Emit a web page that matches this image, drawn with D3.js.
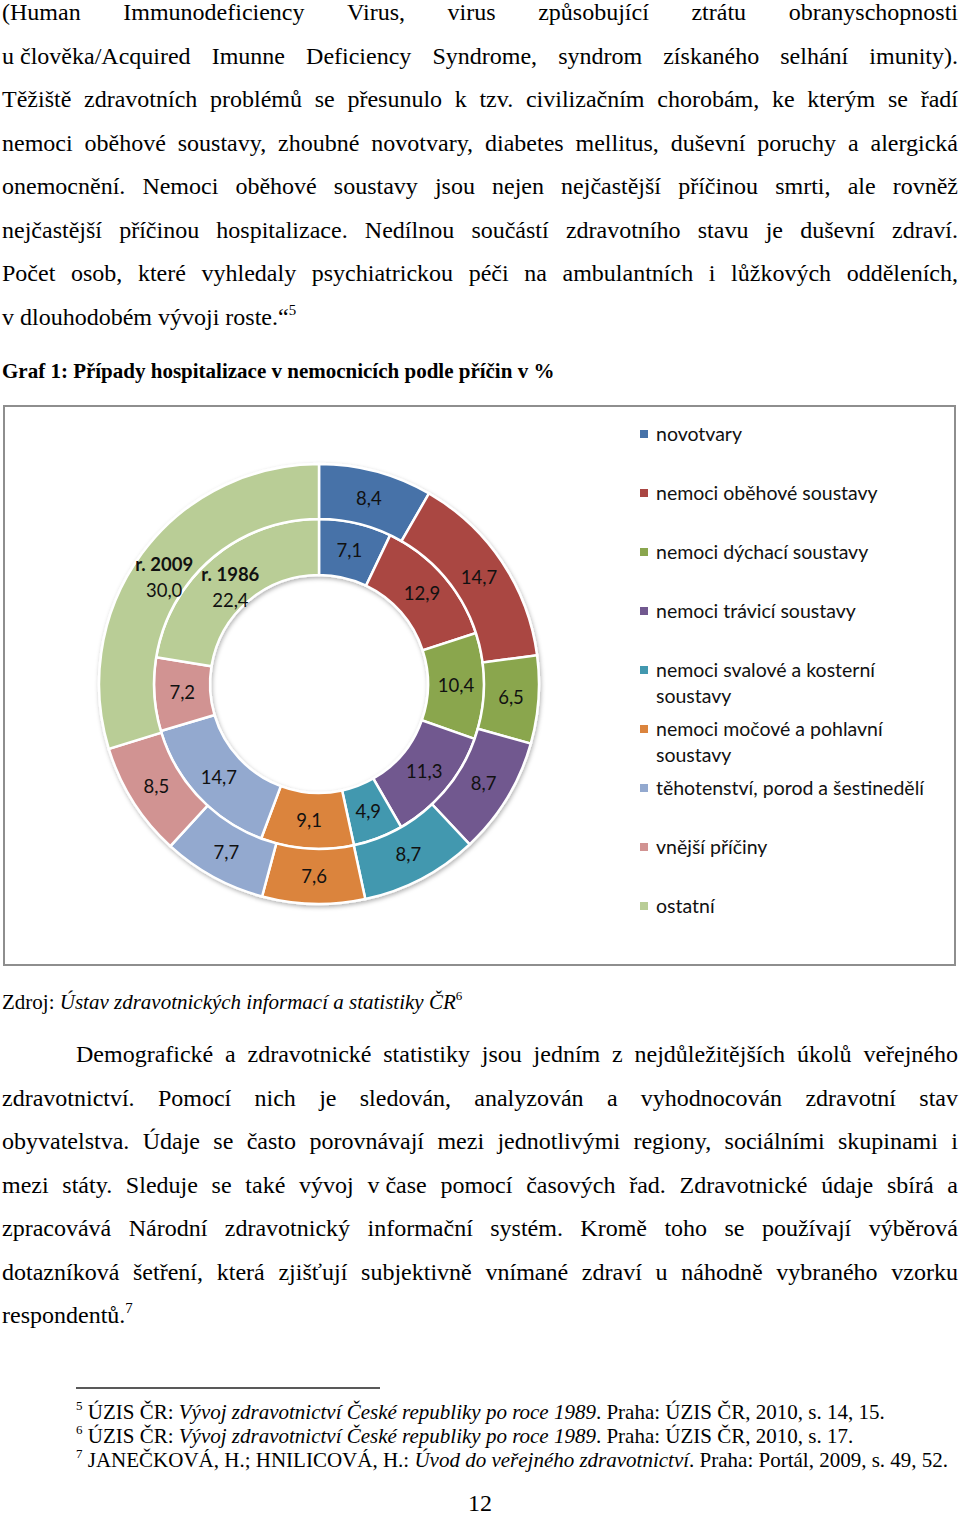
<!DOCTYPE html>
<html>
<head>
<meta charset="utf-8">
<script src="https://cdn.jsdelivr.net/npm/d3@7"></script>
<style>
body { margin: 0; background: #fff; }
svg text { white-space: pre; }
</style>
</head>
<body>
<div id="page"></div>
<script>
// ---- chart data ----
var categories = ["novotvary", "nemoci oběhové soustavy", "nemoci dýchací soustavy",
    "nemoci trávicí soustavy", "nemoci svalové a kosterní soustavy",
    "nemoci močové a pohlavní soustavy", "těhotenství, porod a šestinedělí",
    "vnější příčiny", "ostatní"];
var legendLabels = [["novotvary"], ["nemoci oběhové soustavy"], ["nemoci dýchací soustavy"],
    ["nemoci trávicí soustavy"], ["nemoci svalové a kosterní", "soustavy"],
    ["nemoci močové a pohlavní", "soustavy"], ["těhotenství, porod a šestinedělí"],
    ["vnější příčiny"], ["ostatní"]];
var values1986 = [7.1, 12.9, 10.4, 11.3, 4.9, 9.1, 14.7, 7.2, 22.4];
var values2009 = [8.4, 14.7, 6.5, 8.7, 8.7, 7.6, 7.7, 8.5, 30.0];
var ringNames = ["r. 1986", "r. 2009"];
var palette = ["#4672a8", "#aa4643", "#8aa64e", "#71588f", "#4298af",
    "#db843d", "#93a9cf", "#d19392", "#b9cd96"];

// ---- page text ----
var para1 = [
    "(Human Immunodeficiency Virus, virus způsobující ztrátu obranyschopnosti",
    "u\u00a0člověka/Acquired Imunne Deficiency Syndrome, syndrom získaného selhání imunity).",
    "Těžiště zdravotních problémů se přesunulo k tzv. civilizačním chorobám, ke kterým se řadí",
    "nemoci oběhové soustavy, zhoubné novotvary, diabetes mellitus, duševní poruchy a alergická",
    "onemocnění. Nemoci oběhové soustavy jsou nejen nejčastější příčinou smrti, ale rovněž",
    "nejčastější příčinou hospitalizace. Nedílnou součástí zdravotního stavu je duševní zdraví.",
    "Počet osob, které vyhledaly psychiatrickou péči na ambulantních i lůžkových odděleních,",
    "v\u00a0dlouhodobém vývoji roste.“<sup>5</sup>"
];
var para2 = [
    "Demografické a zdravotnické statistiky jsou jedním z nejdůležitějších úkolů veřejného",
    "zdravotnictví. Pomocí nich je sledován, analyzován a vyhodnocován zdravotní stav",
    "obyvatelstva. Údaje se často porovnávají mezi jednotlivými regiony, sociálními skupinami i",
    "mezi státy. Sleduje se také vývoj v\u00a0čase pomocí časových řad. Zdravotnické údaje sbírá a",
    "zpracovává Národní zdravotnický informační systém. Kromě toho se používají výběrová",
    "dotazníková šetření, která zjišťují subjektivně vnímané zdraví u náhodně vybraného vzorku",
    "respondentů.<sup>7</sup>"
];
var graphTitle = "Graf 1: Případy hospitalizace v nemocnicích podle příčin v %";
var sourceLine = "Zdroj: <i>Ústav zdravotnických informací a statistiky ČR</i><sup>6</sup>";
var footnotes = [
    "<sup>5</sup> ÚZIS ČR: <i>Vývoj zdravotnictví České republiky po roce 1989</i>. Praha: ÚZIS ČR, 2010, s. 14, 15.",
    "<sup>6</sup> ÚZIS ČR: <i>Vývoj zdravotnictví České republiky po roce 1989</i>. Praha: ÚZIS ČR, 2010, s. 17.",
    "<sup>7</sup> JANEČKOVÁ, H.; HNILICOVÁ, H.: <i>Úvod do veřejného zdravotnictví</i>. Praha: Portál, 2009, s. 49, 52."
];
var pageNumber = "12";

var width = 960, height = 1515;
var serif = "'Liberation Serif', 'Times New Roman', serif";
var sans = "Lato, 'Open Sans', sans-serif";

var svg = d3.select("#page").append("svg")
    .attr("width", width)
    .attr("height", height);

// ---- rich text helpers ----
function parseRich(str) {
    var runs = [], italic = false, sup = false;
    str.split(/(<\/?(?:i|sup)>)/).forEach(function (p) {
        if (p === "<i>") italic = true;
        else if (p === "</i>") italic = false;
        else if (p === "<sup>") sup = true;
        else if (p === "</sup>") sup = false;
        else if (p) runs.push({text: p, italic: italic, sup: sup});
    });
    return runs;
}

function splitWords(runs) {
    var words = [[]];
    runs.forEach(function (r) {
        r.text.split(" ").forEach(function (pc, i) {
            if (i > 0) words.push([]);
            if (pc) words[words.length - 1].push({text: pc, italic: r.italic, sup: r.sup});
        });
    });
    return words.filter(function (w) { return w.length; });
}

function fillText(t, runs, fs) {
    var shifted = false;
    runs.forEach(function (r) {
        var ts = t.append("tspan").text(r.text);
        if (r.italic) ts.attr("font-style", "italic");
        if (r.sup) {
            ts.attr("font-size", fs * 0.62);
            if (!shifted) { ts.attr("dy", -fs * 0.42); shifted = true; }
        } else if (shifted) {
            ts.attr("dy", fs * 0.42);
            shifted = false;
        }
    });
}

function drawLine(g, str, x0, x1, baseline, fs, justify) {
    var runs = parseRich(str);
    if (!justify) {
        var t = g.append("text").attr("x", x0).attr("y", baseline).attr("font-size", fs);
        fillText(t, runs, fs);
        return;
    }
    var words = splitWords(runs);
    var nodes = words.map(function (w) {
        var t = g.append("text").attr("y", baseline).attr("font-size", fs);
        fillText(t, w, fs);
        return t;
    });
    var widths = nodes.map(function (n) { return n.node().getComputedTextLength(); });
    var gap = (x1 - x0 - d3.sum(widths)) / (words.length - 1);
    var x = x0;
    nodes.forEach(function (n, i) {
        n.attr("x", x);
        x += widths[i] + gap;
    });
}

// ---- body text ----
var textG = svg.append("g")
    .attr("font-family", serif)
    .attr("fill", "#000");

var lineStep = 43.55;
para1.forEach(function (line, i) {
    drawLine(textG, line, 2, 958, 20 + i * lineStep, 24, i < para1.length - 1);
});

textG.append("text")
    .attr("x", 2)
    .attr("y", 378)
    .attr("font-size", 21)
    .attr("font-weight", "bold")
    .text(graphTitle);

drawLine(textG, sourceLine, 2, 958, 1009, 21, false);

para2.forEach(function (line, i) {
    drawLine(textG, line, i === 0 ? 76 : 2, 958, 1062 + i * lineStep, 24, i < para2.length - 1);
});

textG.append("line")
    .attr("x1", 76).attr("x2", 380)
    .attr("y1", 1388).attr("y2", 1388)
    .attr("stroke", "#222")
    .attr("stroke-width", 1.5);

footnotes.forEach(function (line, i) {
    drawLine(textG, line, 76, 958, 1419 + i * 24, 21, false);
});

textG.append("text")
    .attr("x", width / 2)
    .attr("y", 1511)
    .attr("text-anchor", "middle")
    .attr("font-size", 24)
    .text(pageNumber);

// ---- chart frame ----
var box = {x: 4, y: 406, w: 951, h: 559};
svg.append("rect")
    .attr("x", box.x).attr("y", box.y)
    .attr("width", box.w).attr("height", box.h)
    .attr("fill", "#fff")
    .attr("stroke", "#8e8e8e")
    .attr("stroke-width", 2);

var defs = svg.append("defs");
var shadow = defs.append("filter").attr("id", "shadow")
    .attr("x", "-10%").attr("y", "-10%").attr("width", "120%").attr("height", "120%");
shadow.append("feDropShadow")
    .attr("dx", 1).attr("dy", 2)
    .attr("stdDeviation", 2)
    .attr("flood-color", "#000")
    .attr("flood-opacity", 0.3);

// ---- donut ----
var cx = 319, cy = 684;
var radii = [[109, 165], [165, 220]];   // inner ring 1986, outer ring 2009
var color = d3.scaleOrdinal().domain(categories).range(palette);
var fmt = d3.formatLocale({decimal: ",", thousands: " ", grouping: [3], currency: ["", ""]}).format(".1f");

var pie = d3.pie().sort(null).value(function (d) { return d; });

var chart = svg.append("g")
    .attr("transform", "translate(" + cx + "," + cy + ")");

var ringG = chart.append("g").attr("filter", "url(#shadow)");

[values1986, values2009].forEach(function (vals, ri) {
    var arc = d3.arc().innerRadius(radii[ri][0]).outerRadius(radii[ri][1]);
    var arcs = pie(vals);

    ringG.selectAll(".slice-" + ri)
        .data(arcs)
        .enter().append("path")
        .attr("class", "slice-" + ri)
        .attr("d", arc)
        .attr("fill", function (d, i) { return color(categories[i]); })
        .attr("stroke", "#fff")
        .attr("stroke-width", 2.5);

    var labels = chart.selectAll(".label-" + ri)
        .data(arcs)
        .enter().append("text")
        .attr("class", "label-" + ri)
        .attr("transform", function (d) { return "translate(" + arc.centroid(d) + ")"; })
        .attr("text-anchor", "middle")
        .attr("font-family", sans)
        .attr("font-size", 18.5)
        .attr("fill", "#111");

    labels.each(function (d, i) {
        var t = d3.select(this);
        if (i === arcs.length - 1) {
            t.append("tspan").attr("x", 0).attr("y", -5).attr("dy", "0.35em")
                .attr("font-weight", "bold").text(ringNames[ri]);
            t.append("tspan").attr("x", 0).attr("y", 21).attr("dy", "0.35em")
                .text(fmt(d.data));
        } else {
            t.append("tspan").attr("x", 0).attr("y", 0).attr("dy", "0.35em")
                .text(fmt(d.data));
        }
    });
});

// ---- legend ----
var legendY = d3.scalePoint().domain(categories).range([434, 906]);
var legend = svg.append("g")
    .attr("font-family", sans)
    .attr("font-size", 19.5)
    .attr("fill", "#111");

var items = legend.selectAll(".item")
    .data(categories)
    .enter().append("g")
    .attr("class", "item")
    .attr("transform", function (d) { return "translate(640," + legendY(d) + ")"; });

items.append("rect")
    .attr("x", 0).attr("y", -4)
    .attr("width", 8).attr("height", 8)
    .attr("fill", function (d) { return color(d); });

items.append("text")
    .attr("x", 16)
    .attr("dy", "0.35em")
    .each(function (d, i) {
        var t = d3.select(this);
        legendLabels[i].forEach(function (s, j) {
            t.append("tspan").attr("x", 16).attr("y", j * 26).attr("dy", "0.35em").text(s);
        });
    });
</script>
</body>
</html>
